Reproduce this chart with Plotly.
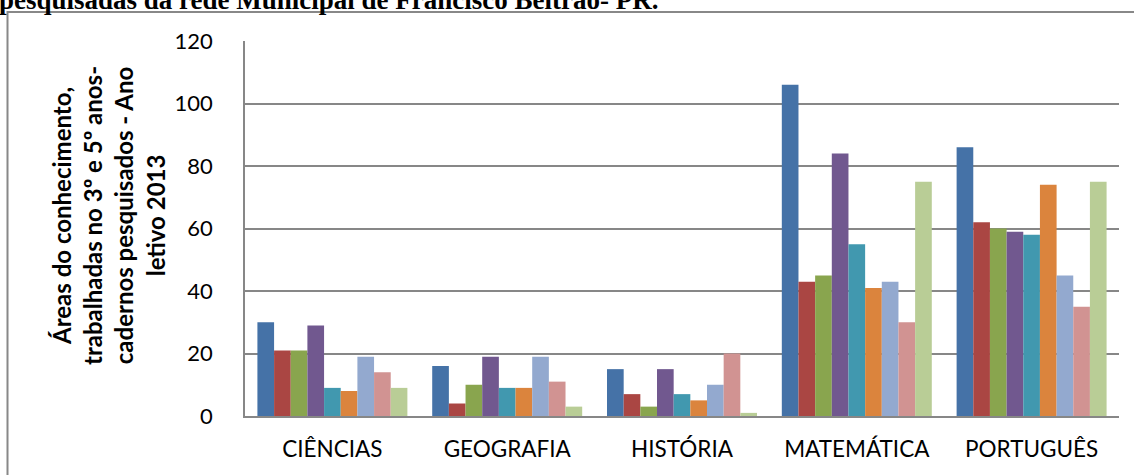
import plotly.graph_objects as go

categories = ["CIÊNCIAS", "GEOGRAFIA", "HISTÓRIA", "MATEMÁTICA", "PORTUGUÊS"]
series_names = ["Série 1", "Série 2", "Série 3", "Série 4", "Série 5",
                "Série 6", "Série 7", "Série 8", "Série 9"]
s1 = [30, 16, 15, 106, 86]
s2 = [21, 4, 7, 43, 62]
s3 = [21, 10, 3, 45, 60]
s4 = [29, 19, 15, 84, 59]
s5 = [9, 9, 7, 55, 58]
s6 = [8, 9, 5, 41, 74]
s7 = [19, 19, 10, 43, 45]
s8 = [14, 11, 20, 30, 35]
s9 = [9, 3, 1, 75, 75]
series_values = [s1, s2, s3, s4, s5, s6, s7, s8, s9]
colors = ["#4572A7", "#AA4643", "#89A54E", "#71588F", "#4198AF",
          "#DB843D", "#93A9CF", "#D19392", "#B9CD96"]
y_ticks = [0, 20, 40, 60, 80, 100, 120]

W, H = 1134, 475
L, R, T, B = 245, 15, 41, 59
pw = W - L - R
ph = H - T - B

def px_x(px):
    return (px - L) / pw

def px_y(py):
    return (H - B - py) / ph

fig = go.Figure()
for name, vals, col in zip(series_names, series_values, colors):
    fig.add_trace(go.Bar(x=categories, y=vals, name=name,
                         marker=dict(color=col, line=dict(width=0)),
                         showlegend=False))

grid = "#878787"
fig.update_layout(
    width=W, height=H,
    margin=dict(l=L, r=R, t=T, b=B, pad=0),
    paper_bgcolor="white", plot_bgcolor="white",
    barmode="group", bargap=0.142, bargroupgap=0,
    font=dict(family="Lato", size=22, color="#000000"),
    xaxis=dict(showline=True, linecolor=grid, linewidth=1.5,
               ticks="", showgrid=False,
               tickfont=dict(family="Lato", size=22.5, color="#000000"),
               ticklabelstandoff=12),
    yaxis=dict(range=[0, 120], tickvals=y_ticks, ticktext=[str(v) for v in y_ticks],
               showline=True, linecolor=grid, linewidth=1.5,
               showgrid=True, gridcolor=grid, gridwidth=1.5,
               zeroline=False, ticks="",
               tickfont=dict(family="Lato", size=22, color="#000000"),
               ticklabelstandoff=26),
)

# y axis title (rotated, 4 lines)
fig.add_annotation(
    text="<b>Áreas do conhecimento,<br>trabalhadas no 3º e 5º anos-<br>cadernos pesquisados - Ano<br>letivo 2013</b>",
    xref="paper", yref="paper", x=px_x(108), y=px_y(216),
    xanchor="center", yanchor="middle", textangle=-90, showarrow=False,
    font=dict(family="Lato", size=24, color="#000000"), align="center")

# Cropped document title at the very top
fig.add_annotation(
    text="<b>pesquisadas da rede Municipal de Francisco Beltrão- PR.</b>",
    xref="paper", yref="paper", x=px_x(-3), y=px_y(0),
    xanchor="left", yanchor="middle", showarrow=False,
    font=dict(family="Liberation Serif", size=27, color="#000000"))

# Outer chart border (left and top visible)
fig.add_shape(type="path", xref="paper", yref="paper",
              path=f"M {px_x(7.5)},{px_y(480)} L {px_x(7.5)},{px_y(12)} L {px_x(1140)},{px_y(12)}",
              line=dict(color="#888888", width=2))

fig.write_html("out.html", config={"displayModeBar": False},
               post_script="document.body.style.margin='0';document.body.style.overflow='hidden';")
